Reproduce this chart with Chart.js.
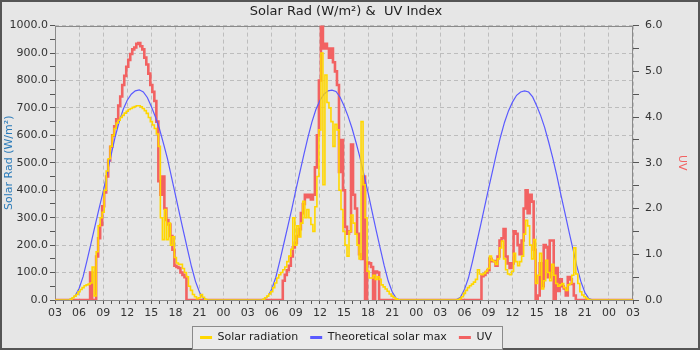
<!DOCTYPE html>
<html>
<head>
<meta charset="utf-8">
<script src="https://cdn.jsdelivr.net/npm/chart.js@4.4.1/dist/chart.umd.min.js"></script>
<style>
  body { margin: 0; background: #fff; }
  canvas { display: block; }
</style>
</head>
<body>
<canvas id="myChart" width="700" height="350"></canvas>
<script>
// x axis runs 72 hours, starting at 03:00 on day 1
const xTickLabels = ['03', '06', '09', '12', '15', '18', '21', '00',
                     '03', '06', '09', '12', '15', '18', '21', '00',
                     '03', '06', '09', '12', '15', '18', '21', '00', '03'];

// daytime samples run 04:30 -> 22:00 each day
const firstSample = 4.5;   // clock hour of the first sample
const sampleStep = 0.25;   // 15 min for solar and UV
const theoStep = 0.5;      // 30 min for the theoretical curve

// Solar radiation, W/m²
const solarDay1 = [
  0, 0,
  3, 8, 14, 20,
  30, 38, 45, 52,
  55, 58, 62, 120,
  15, 176, 270, 300,
  320, 400, 470, 515,
  560, 600, 625, 645,
  655, 665, 673, 681,
  688, 694, 698, 702,
  705, 708, 708, 704,
  698, 690, 680, 665,
  650, 638, 625, 605,
  560, 300, 220, 330,
  220, 280, 200, 230,
  155, 135, 130, 130,
  115, 100, 85, 50,
  35, 20, 12, 5,
  8, 20, 10, 3,
  0
];
const solarDay2 = [
  0, 0,
  3, 8, 14, 22,
  30, 45, 62, 80,
  92, 100, 110, 120,
  140, 160, 185, 300,
  200, 270, 230, 280,
  360, 300, 330, 300,
  275, 250, 340, 450,
  620, 900, 420, 820,
  720, 700, 650, 560,
  640, 620, 400, 330,
  250, 200, 160, 250,
  310, 280, 240, 200,
  150, 650, 420, 300,
  105, 80, 80, 90,
  75, 85, 75, 55,
  48, 40, 32, 22,
  14, 9, 4, 1,
  0
];
const solarDay3 = [
  0, 0,
  0, 2, 5, 12,
  24, 35, 45, 52,
  58, 65, 75, 110,
  95, 92, 97, 105,
  115, 160, 145, 140,
  130, 150, 190, 215,
  150, 110, 95, 92,
  105, 170, 140, 125,
  140, 160, 240, 290,
  270, 200, 150, 220,
  60, 90, 170, 40,
  70, 145, 100, 70,
  130, 90, 60, 50,
  55, 60, 45, 35,
  55, 60, 90, 190,
  95, 60, 30, 18,
  12, 6, 2, 0,
  0
];

// Theoretical solar max, W/m² (30 min)
const theoDay1 = [0, 3, 15, 42, 85, 145, 208, 272, 335, 395, 462, 530, 595, 650, 695, 728, 750, 762,
                  766, 758, 738, 705, 668, 625, 572, 516, 450, 383, 316, 250, 185, 122, 68, 28, 5, 0];
const theoDay2 = [0, 2, 12, 40, 82, 142, 205, 268, 332, 400, 465, 530, 592, 648, 694, 727, 750, 762,
                  765, 760, 740, 708, 670, 626, 574, 518, 455, 390, 322, 255, 190, 126, 70, 30, 6, 0];
const theoDay3 = [0, 1, 10, 38, 80, 140, 205, 270, 338, 405, 470, 535, 595, 648, 690, 722, 746, 758,
                  762, 758, 740, 708, 672, 628, 575, 518, 455, 386, 320, 253, 188, 124, 68, 28, 5, 0];

// UV index
const uvDay1 = [
  0, 0,
  0, 0, 0, 0,
  0, 0, 0, 0,
  0, 0, 0.6, 0,
  0, 0.95, 1.35, 1.64,
  2.05, 2.35, 2.7, 3.05,
  3.35, 3.6, 3.8, 3.95,
  4.25, 4.45, 4.7, 4.9,
  5.1, 5.25, 5.38, 5.48,
  5.52, 5.6, 5.62, 5.55,
  5.48, 5.3, 5.15, 4.95,
  4.7, 4.55, 4.35, 3.9,
  2.6, 2.3, 2.7, 2.0,
  1.75, 1.65, 1.4, 1.1,
  0.75, 0.72, 0.7, 0.6,
  0.55, 0.5, 0, 0,
  0, 0, 0, 0,
  0, 0, 0, 0,
  0
];
const uvDay2 = [
  0, 0,
  0, 0, 0, 0,
  0, 0, 0, 0,
  0, 0, 0.42, 0.55,
  0.65, 0.75, 0.95, 1.15,
  1.25, 1.4, 1.55, 1.9,
  2.1, 2.3, 2.25, 2.3,
  2.2, 2.3, 2.9, 3.6,
  4.8, 6.0, 5.5, 5.6,
  5.5, 5.3, 5.5, 5.2,
  5.0, 4.7, 2.8, 3.5,
  2.4, 1.6, 1.45, 1.5,
  3.4, 2.3, 2.0, 1.45,
  1.0, 0.9, 2.7, 0,
  0.82, 0.8, 0.72, 0,
  0.62, 0.6, 0, 0,
  0, 0, 0, 0,
  0, 0, 0, 0,
  0
];
const uvDay3 = [
  0, 0,
  0, 0, 0, 0,
  0, 0, 0, 0,
  0, 0, 0, 0,
  0, 0.52, 0.55, 0.6,
  0.65, 0.9, 0.85, 0.85,
  0.75, 0.95, 1.3, 1.35,
  1.55, 0.95, 0.8, 0.7,
  0.8, 1.5, 1.45, 1.2,
  1.0, 1.3, 2.0, 2.4,
  1.9, 2.3, 2.15, 1.1,
  0, 0.1, 0.8, 0.3,
  1.2, 1.15, 0.5, 1.3,
  1.3, 0, 0.7, 0.2,
  0.45, 0.3, 0.25, 0.1,
  0.5, 0.45, 0.35, 0.1,
  0, 0, 0, 0,
  0, 0, 0, 0,
  0
];

// turn the per-day arrays into {x, y} points on the 72 h axis, zero through the night
function buildSeries(days, step) {
  const points = [{x: 0, y: 0}];
  days.forEach((vals, d) => {
    vals.forEach((v, i) => points.push({x: d * 24 + (firstSample - 3) + i * step, y: v}));
  });
  points.push({x: 72, y: 0});
  return points;
}

Chart.defaults.font.family = '"DejaVu Sans", sans-serif';
Chart.defaults.font.size = 11;
Chart.defaults.color = '#333';

const gridColor = '#bdbdbd';
const tickColor = '#555';

// background, outer frame, legend box and plot outline
const frame = {
  id: 'frame',
  beforeDraw(chart) {
    const {ctx, width, height} = chart;
    ctx.save();
    ctx.fillStyle = '#e6e6e6';
    ctx.fillRect(0, 0, width, height);
    ctx.strokeStyle = '#555';
    ctx.lineWidth = 2;
    ctx.strokeRect(1, 1, width - 2, height - 2);
    const hb = chart.legend.legendHitBoxes;
    if (hb && hb.length) {
      const last = hb[hb.length - 1];
      const x0 = Math.round(hb[0].left - 8) + 0.5;
      const x1 = Math.round(last.left + last.width + 10) + 0.5;
      const y0 = Math.round(hb[0].top - 6) + 0.5;
      const y1 = Math.round(hb[0].top + hb[0].height + 6) + 0.5;
      ctx.fillStyle = '#eaeaea';
      ctx.fillRect(x0, y0, x1 - x0, y1 - y0);
      ctx.strokeStyle = '#8a8a8a';
      ctx.lineWidth = 1;
      ctx.strokeRect(x0, y0, x1 - x0, y1 - y0);
    }
    ctx.restore();
  },
  beforeDatasetsDraw(chart) {
    const {ctx, chartArea: a} = chart;
    ctx.save();
    ctx.strokeStyle = '#8a8a8a';
    ctx.lineWidth = 1;
    ctx.strokeRect(Math.round(a.left) + 0.5, Math.round(a.top) + 0.5,
                   Math.round(a.right - a.left) - 1, Math.round(a.bottom - a.top));
    ctx.restore();
  }
};

const ctx = document.getElementById('myChart');

new Chart(ctx, {
    type: 'line',
    data: {
        datasets: [{
            label: 'Solar radiation',
            data: buildSeries([solarDay1, solarDay2, solarDay3], sampleStep),
            borderColor: '#ffd700',
            backgroundColor: '#ffd700',
            borderWidth: 1.6,
            stepped: 'middle',
            yAxisID: 'y'
        }, {
            label: 'Theoretical solar max',
            data: buildSeries([theoDay1, theoDay2, theoDay3], theoStep),
            borderColor: '#5a5aff',
            backgroundColor: '#5a5aff',
            borderWidth: 1.2,
            yAxisID: 'y'
        }, {
            label: 'UV',
            data: buildSeries([uvDay1, uvDay2, uvDay3], sampleStep),
            borderColor: '#f26262',
            backgroundColor: '#f26262',
            borderWidth: 2.6,
            stepped: 'middle',
            yAxisID: 'y1'
        }]
    },
    options: {
        responsive: false,
        animation: false,
        layout: { padding: { left: 0, right: 8, top: 0, bottom: 0 } },
        elements: { point: { radius: 0 }, line: { tension: 0 } },
        scales: {
            x: {
                type: 'linear',
                min: 0,
                max: 72,
                afterFit: s => { s.height = 20; },
                border: { display: false, dash: [4, 3] },
                grid: {
                    color: c => (c.tick && c.tick.value % 3 === 0) ? gridColor : 'transparent',
                    tickColor: tickColor,
                    tickLength: 4
                },
                ticks: {
                    stepSize: 1,
                    maxTicksLimit: 100,
                    autoSkip: false,
                    maxRotation: 0,
                    padding: 3,
                    color: '#333',
                    callback: v => v % 3 === 0 ? xTickLabels[v / 3] : ''
                }
            },
            y: {
                position: 'left',
                min: 0,
                max: 1000,
                afterFit: s => { s.width = 55; },
                border: { display: false, dash: [4, 3] },
                grid: {
                    color: c => (c.tick && c.tick.value % 100 === 0) ? gridColor : 'transparent',
                    tickColor: tickColor,
                    tickLength: 5
                },
                ticks: {
                    stepSize: 50,
                    maxTicksLimit: 100,
                    autoSkip: false,
                    padding: 2,
                    color: '#333',
                    callback: v => v % 100 === 0 ? v.toFixed(1) : ''
                },
                title: {
                    display: true,
                    text: 'Solar Rad (W/m²)',
                    color: '#2b7bb9',
                    padding: { top: 3, bottom: 0 }
                }
            },
            y1: {
                position: 'right',
                min: 0,
                max: 6,
                afterFit: s => { s.width = 59; },
                border: { display: false },
                grid: { drawOnChartArea: false, tickColor: tickColor, tickLength: 6 },
                ticks: {
                    stepSize: 0.5,
                    maxTicksLimit: 100,
                    autoSkip: false,
                    padding: 6,
                    color: '#333',
                    callback: v => Number.isInteger(v) ? v.toFixed(1) : ''
                },
                title: {
                    display: true,
                    text: 'UV',
                    color: '#f26262',
                    padding: { top: 4, bottom: 0 }
                }
            }
        },
        plugins: {
            title: {
                display: true,
                text: 'Solar Rad (W/m²) &  UV Index',
                color: '#222',
                font: { size: 13, weight: 'normal' },
                padding: { top: 4, bottom: 6 }
            },
            legend: {
                display: true,
                position: 'bottom',
                maxHeight: 30,
                labels: {
                    usePointStyle: true,
                    pointStyle: 'line',
                    pointStyleWidth: 12,
                    padding: 12,
                    color: '#222',
                    generateLabels: chart => Chart.defaults.plugins.legend.labels.generateLabels(chart)
                        .map(item => Object.assign(item, { lineWidth: 3 }))
                }
            },
            tooltip: { enabled: false }
        }
    },
    plugins: [frame]
});
</script>
</body>
</html>
